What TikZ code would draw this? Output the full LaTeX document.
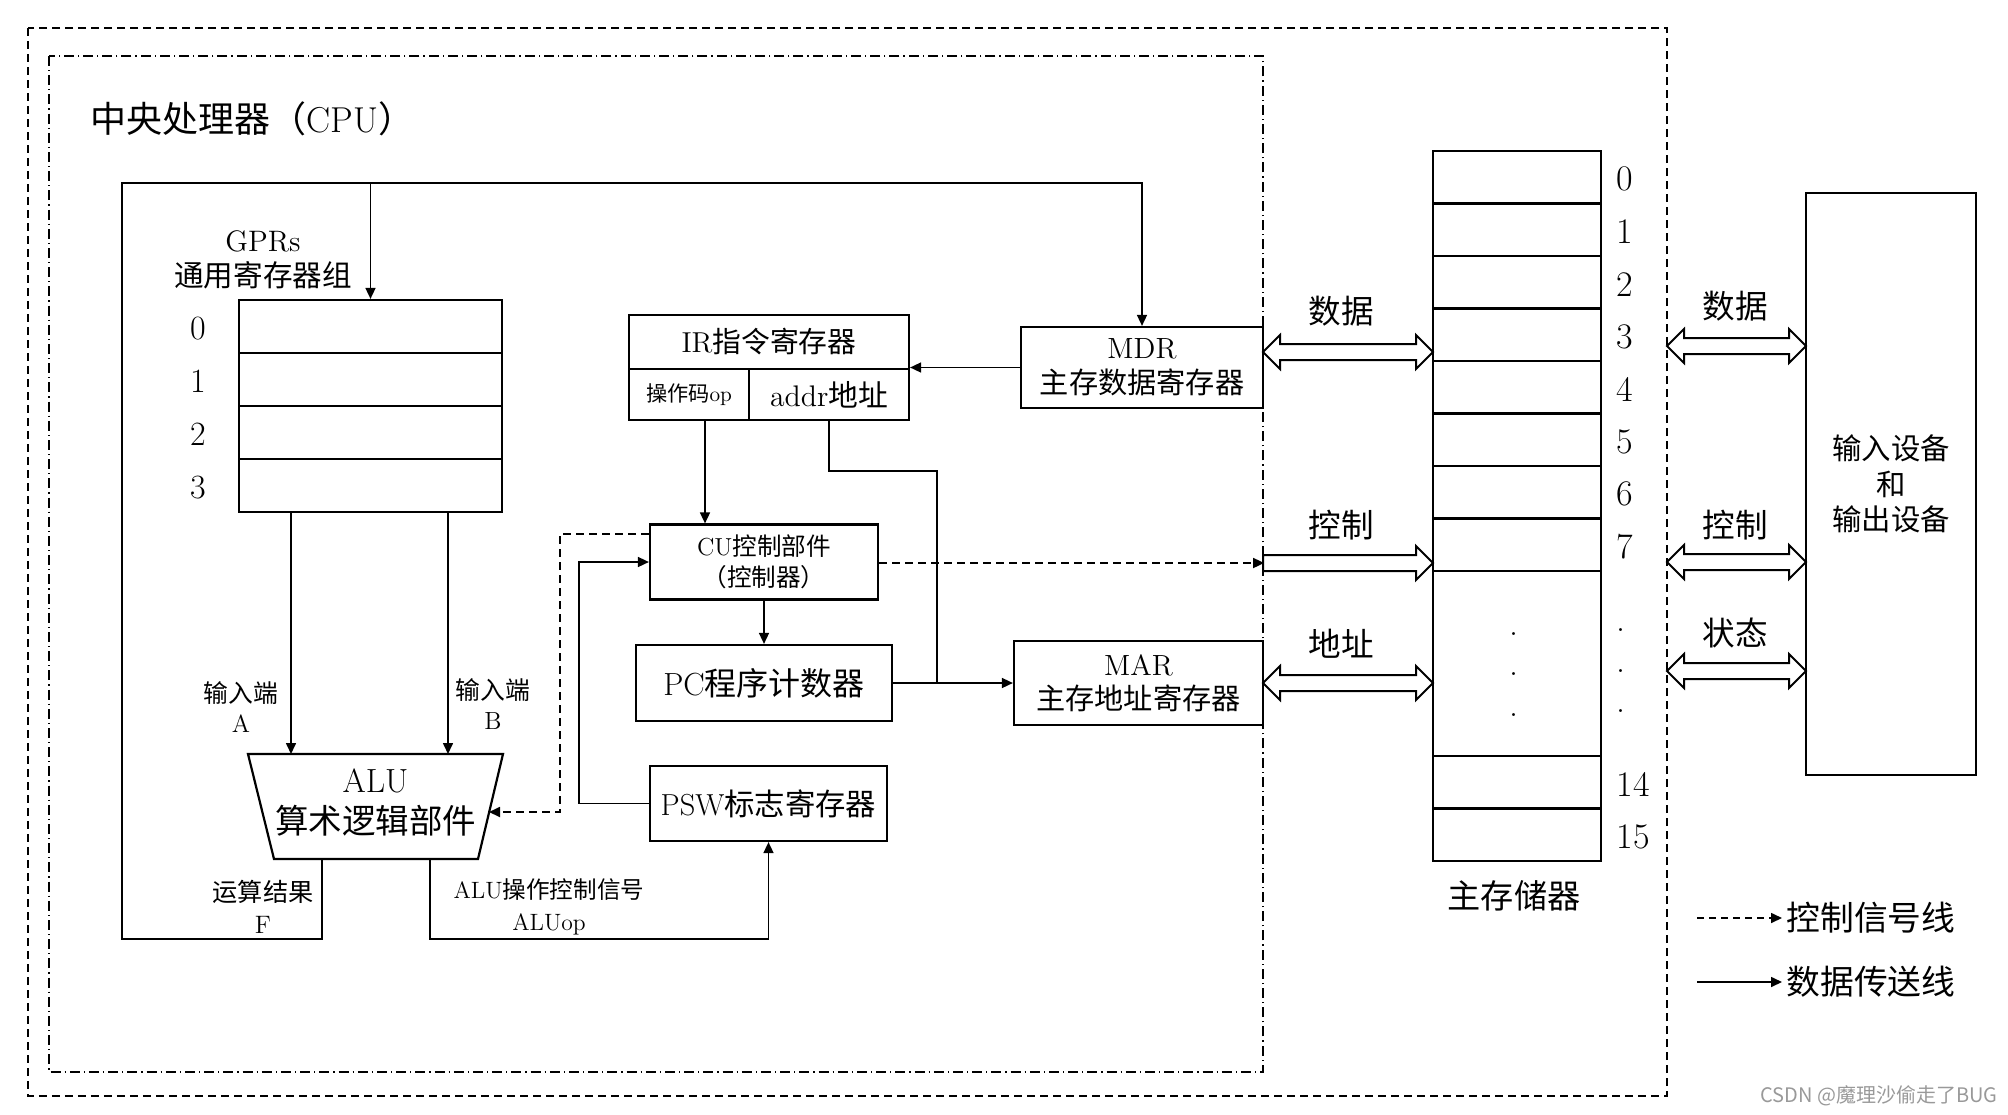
\documentclass[tikz,border=0pt]{standalone}
\usepackage{fontspec}
\newfontfamily\cjk{Noto Sans CJK SC}
\usetikzlibrary{arrows.meta,calc}
\newcommand\fsz[2]{\fontsize{#1}{#2}\selectfont}
\newcommand\ltn[1]{{\rmfamily #1}}
\newcommand\dbus[3]{\draw[bus] (#2,#1) -- ({#2+17},{#1-17}) -- ({#2+17},{#1-8}) -- ({#3-17},{#1-8}) -- ({#3-17},{#1-17}) -- (#3,#1) -- ({#3-17},{#1+17}) -- ({#3-17},{#1+8}) -- ({#2+17},{#1+8}) -- ({#2+17},{#1+17}) -- cycle;}
\newcommand\rbus[3]{\draw[bus] (#2,{#1-8}) -- ({#3-17},{#1-8}) -- ({#3-17},{#1-17}) -- (#3,#1) -- ({#3-17},{#1+17}) -- ({#3-17},{#1+8}) -- (#2,{#1+8}) -- cycle;}
\begin{document}
\begin{tikzpicture}[x=0.5pt,y=-0.5pt,
  box/.style={draw, line width=1.1pt, inner sep=0pt, align=center},
  ln/.style={line width=0.8pt},
  arr/.style={ln, -{Triangle[length=5.5pt,width=5pt]}},
  darr/.style={line width=0.9pt, dash pattern=on 4pt off 2.5pt, -{Triangle[length=5.5pt,width=5pt]}},
  bus/.style={draw, line width=1pt, fill=white, line join=miter},
  lbl/.style={font=\cjk\fsz{16.3pt}{19pt}},
  idx/.style={font=\fsz{18pt}{20pt}},
]
\useasboundingbox (0,0) rectangle (2008,1114);
% frames
\draw[line width=1pt, dash pattern=on 4pt off 2.5pt] (28,28) rectangle (1667,1096);
\draw[line width=0.75pt, dash pattern=on 5pt off 2pt on 0.6pt off 2pt] (49,56) rectangle (1263,1072);
\node[font=\cjk\fsz{18pt}{22pt}, anchor=west, inner sep=0pt] (title) at (90,119) {中央处理器（\ltn{CPU}）};

% GPR
\foreach \i/\y in {0/326.5,1/379.5,2/432.5,3/485.5}{
  \node[box, minimum width=131.5pt, minimum height=26.5pt] (g\i) at (370.5,\y) {};
  \node[idx, font=\fsz{17pt}{20pt}] at (198,\y+2) {\i};
}
\node[font=\cjk\fsz{14.8pt}{17.5pt}, align=center] (gprl) at (263,259.5) {\ltn{GPRs}\\通用寄存器组};

% ALU
\draw[line width=1.1pt, line join=miter] (248,754) -- (503,754) -- (478,859) -- (274,859) -- cycle;
\node[font=\cjk\fsz{16.75pt}{20.5pt}, align=center] (alu) at (375.5,802.5) {\ltn{ALU}\\算术逻辑部件};
\coordinate (aluA) at (291,754);
\coordinate (aluB) at (448,754);
\coordinate (aluF) at (322,859);
\coordinate (aluOp) at (430,859);
\coordinate (aluR) at (489,812);

\node[font=\cjk\fsz{12.4pt}{15pt}, align=center] (ina) at (241,707) {输入端\\\ltn{A}};
\node[font=\cjk\fsz{12.4pt}{15pt}, align=center] (inb) at (493,704.5) {输入端\\\ltn{B}};
\node[font=\cjk\fsz{12.6pt}{16pt}, align=center] (resf) at (263,907) {运算结果\\\ltn{F}};
\node[font=\cjk\fsz{11.8pt}{16pt}, align=center] (aluopl) at (549,907) {\ltn{ALU}操作控制信号\\\ltn{ALUop}};

% IR
\node[box, minimum width=140pt, minimum height=27pt, font=\cjk\fsz{14.4pt}{17pt}] (irt) at (769,342) {\ltn{IR}指令寄存器};
\node[box, minimum width=60pt, minimum height=25.5pt, font=\cjk\fsz{10.6pt}{13pt}] (irop) at (689,394.5) {操作码\ltn{op}};
\node[box, minimum width=80pt, minimum height=25.5pt, font=\cjk\fsz{14.9pt}{17pt}] (iraddr) at (829,394.5) {\ltn{addr}地址};

% MDR, MAR
\node[box, minimum width=121pt, minimum height=40.5pt, font=\cjk\fsz{14.6pt}{17.5pt}] (mdr) at (1142,367.5) {\ltn{MDR}\\主存数据寄存器};
\node[box, minimum width=124.5pt, minimum height=42pt, font=\cjk\fsz{14.6pt}{17pt}] (mar) at (1138.5,683) {\ltn{MAR}\\主存地址寄存器};

% CU, PC, PSW
\node[box, minimum width=114pt, minimum height=37.5pt, font=\cjk\fsz{12.3pt}{15.5pt}] (cu) at (764,562) {\ltn{CU}控制部件\\（控制器）};
\node[box, minimum width=128pt, minimum height=38pt, font=\cjk\fsz{16pt}{19pt}] (pc) at (764,683) {\ltn{PC}程序计数器};
\node[box, minimum width=118.5pt, minimum height=37.5pt, font=\cjk\fsz{15.2pt}{18pt}] (psw) at (768.5,803.5) {\ltn{PSW}标志寄存器};

% memory
\foreach \i in {0,...,7}{
  \node[box, minimum width=84pt, minimum height=26.25pt] (m\i) at (1517,{177.25+52.5*\i}) {};
  \node[idx] at (1625,{179.25+52.5*\i}) {\i};
}
\node[box, minimum width=84pt, minimum height=92.5pt] (mgap) at (1517,663.5) {};
\node[box, minimum width=84pt, minimum height=26.25pt] (m14) at (1517,782.25) {};
\node[box, minimum width=84pt, minimum height=26.25pt] (m15) at (1517,834.75) {};
\node[idx] at (1633,784) {14};
\node[idx] at (1633,837) {15};
\foreach \y in {631,671,712}{\node[idx, anchor=base] at (1514,\y+4) {.};}
\foreach \y in {627,668,708}{\node[idx, anchor=base] at (1621,\y+4) {.};}
\node[font=\cjk\fsz{16.6pt}{20pt}] (meml) at (1514,896) {主存储器};

% IO
\node[box, minimum width=85pt, minimum height=291pt, font=\cjk\fsz{14.7pt}{17.75pt}] (io) at (1891,484) {输入设备\\和\\输出设备};

% connectors
\draw[arr] (aluF) -- (322,939) -- (122,939) -- (122,183) -| (mdr.north);
\draw[arr] (g0.north |- 0,183) -- (g0.north);
\draw[arr] (g3.south -| aluA) -- (aluA);
\draw[arr] (g3.south -| aluB) -- (aluB);
\draw[arr] (aluOp) -- (430,939) -| (psw.south);
\draw[arr] (mdr.west) -- (mdr.west -| irt.east);
\draw[arr] ([xshift=8pt]irop.south) -- ([xshift=8pt]irop.south |- cu.north);
\coordinate (j) at (937,683);
\draw[ln] (iraddr.south) -- ++(0,50) -| (j);
\draw[arr] (pc.east) -- (mar.west);
\draw[arr] (cu.south) -- (pc.north);
\draw[arr] (psw.west) -- ++(-70,0) |- (cu.west);
\draw[darr] ([yshift=14pt]cu.west) -- ++(-89,0) |- (aluR);
\draw[darr] ([yshift=-0.5pt]cu.east) -- ([yshift=-0.5pt]cu.east -| mdr.east);

% buses
\dbus{352}{1263}{1433}
\rbus{563}{1263}{1433}
\dbus{683}{1263}{1433}
\dbus{346}{1667}{1806}
\dbus{562}{1667}{1806}
\dbus{671}{1667}{1806}
\node[lbl] (bd) at (1341,311) {数据};
\node[lbl] (bc) at (1341,525) {控制};
\node[lbl] (ba) at (1341,644) {地址};
\node[lbl] (rd) at (1735,306) {数据};
\node[lbl] (rc) at (1735,525) {控制};
\node[lbl] (rs) at (1735,633) {状态};

% legend
\node[font=\cjk\fsz{16.9pt}{20pt}, anchor=west, inner sep=2pt] (leg1) at (1782,918) {控制信号线};
\node[font=\cjk\fsz{16.9pt}{20pt}, anchor=west, inner sep=2pt] (leg2) at (1782,982) {数据传送线};
\coordinate (l1) at (1697,918);
\coordinate (l2) at (1697,982);
\draw[darr, line width=0.8pt, dash pattern=on 3.5pt off 2.5pt] (l1) -- (leg1.west);
\draw[arr] (l2) -- (leg2.west);

\node[font=\cjk\fsz{10pt}{12pt}, text=black!40] (wm) at (1879,1096) {CSDN @魔理沙偷走了BUG};
\end{tikzpicture}
\end{document}
